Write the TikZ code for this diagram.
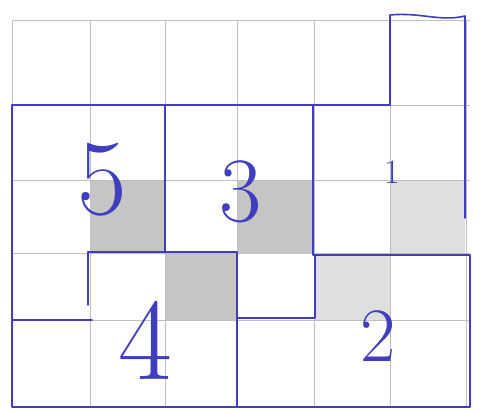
\documentclass[tikz,border=0pt]{standalone}
\usepackage{tikz}
\usetikzlibrary{positioning}

\definecolor{pen}{RGB}{62,62,190}
\definecolor{pencil}{RGB}{150,150,150}

\begin{document}
\begin{tikzpicture}[x=1pt, y=-1pt,
    % --- Styles ---
    gridline/.style={pencil!60, line width=0.5pt},
    wall/.style={pen, line width=1.6pt, line cap=round, line join=round},
    hatch/.style={fill=pencil!55},
    hatchlight/.style={fill=pencil!30},
    digit/.style={text=pen, inner sep=0pt, font=\fontsize{#1}{#1}\selectfont},
]
\useasboundingbox (0,0) rectangle (483,414);

% === Shaded cells ===
\fill[hatch]      (90,180)  rectangle (165,252);
\fill[hatch]      (165,252) rectangle (237,320);
\fill[hatch]      (237,180) rectangle (313,253);
\fill[hatchlight] (390,180) rectangle (465,253);
\fill[hatchlight] (315,255) rectangle (390,320);

% === Pencil grid ===
\foreach \x in {12,90,165,237,314,390,466}
  \draw[gridline] (\x,20) -- (\x,407);
\foreach \y in {20,105,180,253,320,407}
  \draw[gridline] (12,\y) -- (470,\y);

% === Pen walls ===
\draw[wall] (390,105) -- (390,15) .. controls (420,12) and (440,22) .. (465,16) -- (465,218);
\draw[wall] (12,105) -- (390,105);
\draw[wall] (12,105) -- (12,407) -- (470,407) -- (470,255) -- (313,255) -- (313,105);
\draw[wall] (165,105) -- (165,252);
\draw[wall] (88,305) -- (88,252) -- (237,252) -- (237,407);
\draw[wall] (13,320) -- (92,320);
\draw[wall] (237,318) -- (315,318) -- (315,255);

% === Room numbers ===
\node[digit=108] (r5) at (102,180) {5};
\node[digit=92]  (r3) at (241,192) {3};
\node[digit=34]  (r1) at (392,172) {1};
\node[digit=117] (r4) at (145,340) {4};
\node[digit=77]  (r2) at (378,336) {2};

\end{tikzpicture}
\end{document}
